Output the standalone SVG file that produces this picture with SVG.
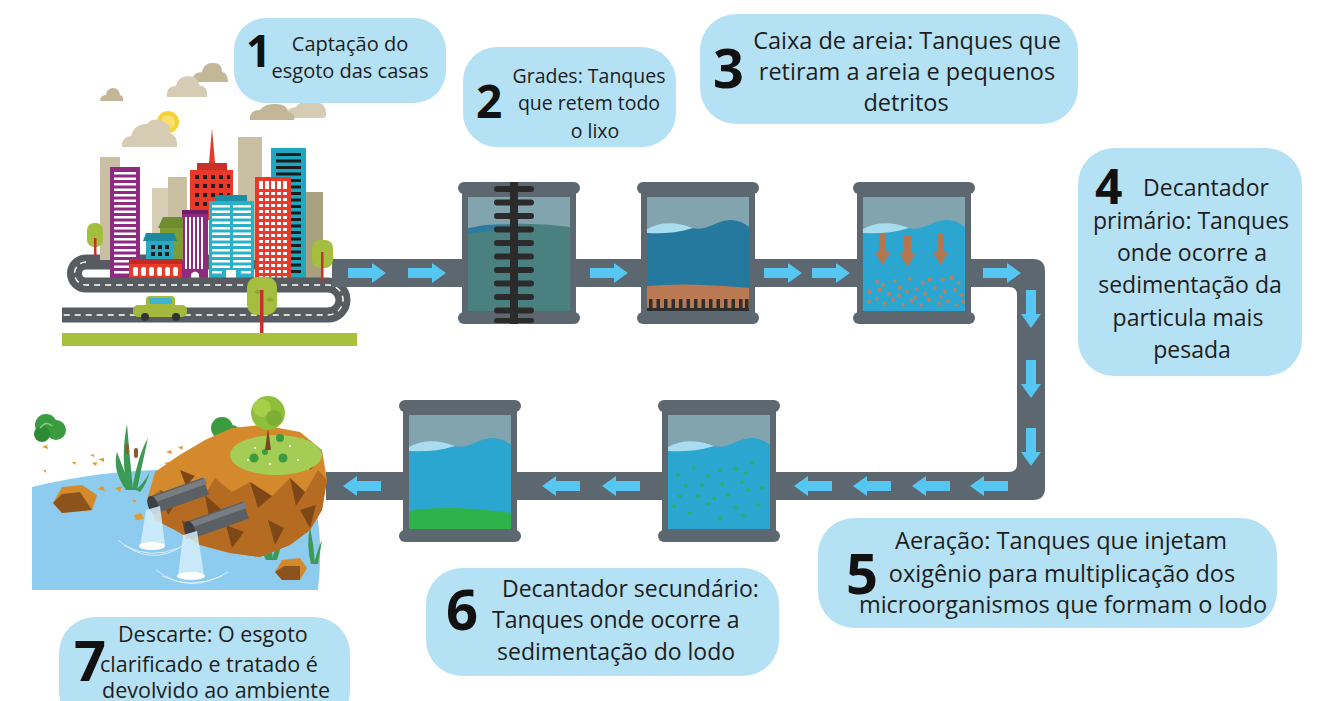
<svg xmlns="http://www.w3.org/2000/svg" width="1325" height="701" viewBox="0 0 1325 701">
  <style>
    .box { fill: #b5e1f4; }
    .t { font-family: "Open Sans", "Liberation Sans", sans-serif; fill: #1d1d1d; }
    .num { font-family: "Open Sans", "Liberation Sans", sans-serif; font-weight: 700; fill: #111; }
    .frame { fill: #5c6770; }
    .glass { fill: #82a4ae; }
    .flow { fill: #56c6f2; }
    .sed { fill: #c47a52; }
    .gdot { fill: #2db34a; }
    .road { fill: none; stroke: #575c61; stroke-width: 15; }
    .dash { fill: none; stroke: #ffffff; stroke-width: 1.5; stroke-dasharray: 6 5; }
    .cloudA { fill: #d5ccb3; }
    .cloudB { fill: #c3b798; }
  </style>
  <defs>
    <path id="arr" d="M0,-5 H24 V-10 L38,0 L24,10 V5 H0 Z"/>
    <!-- empty tank shell: caps, body and glass -->
    <g id="shell">
      <rect class="frame" x="4" y="8" width="114" height="126"/>
      <rect class="glass" x="10" y="15" width="102" height="114"/>
      <rect class="frame" x="0" y="0" width="122" height="12" rx="6"/>
      <rect class="frame" x="0" y="130" width="122" height="12" rx="6"/>
    </g>
    <path id="wave" d="M10,47 C25,40 40,42 55,46 C70,50 80,37 95,38 C104,39 108,42 112,45 V129 H10 Z"/>
    <path id="crest" d="M10,47 C24,39 40,40 56,46 C40,51 24,52 10,51 Z" fill="#aadcf0"/>
  </defs>

  <rect width="1325" height="701" fill="#ffffff"/>

  <!-- city -->
  <g id="city">
    <path class="road" d="M300,262 H86"/>
    <!-- clouds -->
    <path class="cloudB" d="M100,101 Q100,95 106,95 Q107,88 113,88 Q119,88 120,95 Q124,96 123,101 Z"/>
    <path class="cloudB" d="M192,82 Q192,72 202,72 Q204,62 214,63 Q222,63 222,72 Q228,73 228,82 Z"/>
    <path class="cloudA" d="M167,97 Q166,86 176,86 Q178,76 189,76 Q199,77 199,85 Q208,86 207,97 Z"/>
    <path class="cloudA" d="M285,118 Q285,108 296,107 Q300,100 312,101 Q325,102 326,112 Q327,118 322,118 Z"/>
    <path class="cloudB" d="M250,120 Q249,110 260,110 Q265,103 276,104 Q287,104 288,112 Q296,113 294,120 Z"/>
    <circle cx="168" cy="122" r="11" fill="#f3d23a"/>
    <circle cx="168" cy="122" r="7" fill="#f8e06a"/>
    <path class="cloudA" d="M122,147 Q121,137 131,136 Q134,124 147,124 Q153,117 162,121 Q172,124 170,133 Q178,136 177,147 Z"/>
    <!-- background towers -->
    <rect x="100" y="157" width="20" height="103" fill="#c9bfa3"/>
    <rect x="152" y="188" width="18" height="72" fill="#d6ceb6"/>
    <rect x="168" y="177" width="19" height="83" fill="#c9bfa3"/>
    <rect x="238" y="137" width="24" height="123" fill="#c9bfa3"/>
    <rect x="304" y="192" width="19" height="90" fill="#a8a07f"/>
    <!-- purple tower -->
    <rect x="110" y="167" width="30" height="115" fill="#8e2b80"/>
    <g fill="#ffffff">
      <rect x="114" y="172" width="22" height="2.5"/><rect x="114" y="177.5" width="22" height="2.5"/><rect x="114" y="183" width="22" height="2.5"/><rect x="114" y="188.5" width="22" height="2.5"/><rect x="114" y="194" width="22" height="2.5"/><rect x="114" y="199.5" width="22" height="2.5"/><rect x="114" y="205" width="22" height="2.5"/><rect x="114" y="210.5" width="22" height="2.5"/><rect x="114" y="216" width="22" height="2.5"/><rect x="114" y="221.5" width="22" height="2.5"/><rect x="114" y="227" width="22" height="2.5"/><rect x="114" y="232.5" width="22" height="2.5"/><rect x="114" y="238" width="22" height="2.5"/><rect x="114" y="243.5" width="22" height="2.5"/><rect x="114" y="249" width="22" height="2.5"/><rect x="114" y="254.5" width="22" height="2.5"/><rect x="114" y="260" width="22" height="2.5"/><rect x="114" y="265.5" width="22" height="2.5"/><rect x="114" y="271" width="22" height="2.5"/>
    </g>
    <!-- red spire tower -->
    <polygon points="209,163 212,128 215,163" fill="#e8392b"/>
    <rect x="197" y="163" width="30" height="7" fill="#c8302a"/>
    <rect x="190" y="170" width="43" height="50" fill="#e8392b"/>
    <g fill="#1d1d1d">
      <rect x="195" y="175" width="4" height="4"/><rect x="203" y="175" width="4" height="4"/><rect x="211" y="175" width="4" height="4"/><rect x="219" y="175" width="4" height="4"/><rect x="227" y="175" width="3" height="4"/>
      <rect x="195" y="184" width="4" height="4"/><rect x="203" y="184" width="4" height="4"/><rect x="211" y="184" width="4" height="4"/><rect x="219" y="184" width="4" height="4"/><rect x="227" y="184" width="3" height="4"/>
      <rect x="195" y="193" width="4" height="4"/><rect x="203" y="193" width="4" height="4"/><rect x="211" y="193" width="4" height="4"/><rect x="219" y="193" width="4" height="4"/><rect x="227" y="193" width="3" height="4"/>
      <rect x="195" y="202" width="4" height="4"/><rect x="203" y="202" width="4" height="4"/>
    </g>
    <!-- tall cyan tower -->
    <rect x="271" y="148" width="35" height="134" fill="#1ea7be"/>
    <g fill="#1d1d1d">
      <rect x="276" y="153" width="25" height="3"/><rect x="276" y="159.5" width="25" height="3"/><rect x="276" y="166" width="25" height="3"/><rect x="276" y="172.5" width="25" height="3"/><rect x="276" y="179" width="25" height="3"/><rect x="276" y="185.5" width="25" height="3"/><rect x="276" y="192" width="25" height="3"/><rect x="276" y="198.5" width="25" height="3"/><rect x="276" y="205" width="25" height="3"/><rect x="276" y="211.5" width="25" height="3"/><rect x="276" y="218" width="25" height="3"/><rect x="276" y="224.5" width="25" height="3"/><rect x="276" y="231" width="25" height="3"/><rect x="276" y="237.5" width="25" height="3"/><rect x="276" y="244" width="25" height="3"/><rect x="276" y="250.5" width="25" height="3"/><rect x="276" y="257" width="25" height="3"/><rect x="276" y="263.5" width="25" height="3"/><rect x="276" y="270" width="25" height="3"/>
    </g>
    <!-- red grid tower -->
    <rect x="255" y="177" width="36" height="105" fill="#e8392b"/>
    <g fill="#ffffff">
      <rect x="259" y="181" width="4" height="8"/><rect x="265" y="181" width="4" height="8"/><rect x="271" y="181" width="4" height="8"/><rect x="277" y="181" width="4" height="8"/><rect x="283" y="181" width="4" height="8"/>
    </g>
    <g id="redgrid" fill="#ffffff">
      <rect x="259" y="192" width="4" height="3"/><rect x="265" y="192" width="4" height="3"/><rect x="271" y="192" width="4" height="3"/><rect x="277" y="192" width="4" height="3"/><rect x="283" y="192" width="4" height="3"/>
      <rect x="259" y="198" width="4" height="3"/><rect x="265" y="198" width="4" height="3"/><rect x="271" y="198" width="4" height="3"/><rect x="277" y="198" width="4" height="3"/><rect x="283" y="198" width="4" height="3"/>
      <rect x="259" y="204" width="4" height="3"/><rect x="265" y="204" width="4" height="3"/><rect x="271" y="204" width="4" height="3"/><rect x="277" y="204" width="4" height="3"/><rect x="283" y="204" width="4" height="3"/>
      <rect x="259" y="210" width="4" height="3"/><rect x="265" y="210" width="4" height="3"/><rect x="271" y="210" width="4" height="3"/><rect x="277" y="210" width="4" height="3"/><rect x="283" y="210" width="4" height="3"/>
      <rect x="259" y="216" width="4" height="3"/><rect x="265" y="216" width="4" height="3"/><rect x="271" y="216" width="4" height="3"/><rect x="277" y="216" width="4" height="3"/><rect x="283" y="216" width="4" height="3"/>
    </g>
    <use href="#redgrid" y="30"/>
    <use href="#redgrid" y="60"/>
    <!-- middle cyan block -->
    <rect x="216" y="195" width="31" height="6" fill="#1a8fa3"/>
    <rect x="209" y="201" width="45" height="81" fill="#2ab1c8"/>
    <g id="cyanrows" fill="#ffffff">
      <rect x="212" y="205" width="18" height="2.5"/><rect x="233" y="205" width="18" height="2.5"/>
      <rect x="212" y="210.5" width="18" height="2.5"/><rect x="233" y="210.5" width="18" height="2.5"/>
      <rect x="212" y="216" width="18" height="2.5"/><rect x="233" y="216" width="18" height="2.5"/>
      <rect x="212" y="221.5" width="18" height="2.5"/><rect x="233" y="221.5" width="18" height="2.5"/>
      <rect x="212" y="227" width="18" height="2.5"/><rect x="233" y="227" width="18" height="2.5"/>
      <rect x="212" y="232.5" width="18" height="2.5"/><rect x="233" y="232.5" width="18" height="2.5"/>
    </g>
    <use href="#cyanrows" y="33"/>
    <rect x="212" y="271" width="10" height="2.5" fill="#fff"/><rect x="241" y="271" width="10" height="2.5" fill="#fff"/>
    <rect x="226" y="270" width="10" height="12" fill="#ffffff"/>
    <!-- small purple block -->
    <rect x="182" y="210" width="26" height="72" fill="#8e2b80"/>
    <rect x="182" y="210" width="26" height="4" fill="#6e1f63"/>
    <g fill="#ffffff">
      <rect x="185" y="217" width="2" height="52"/><rect x="189" y="217" width="2" height="52"/><rect x="193" y="217" width="2" height="52"/><rect x="197" y="217" width="2" height="52"/><rect x="201" y="217" width="2" height="52"/>
    </g>
    <path d="M191,282 V274 Q195,269 199,274 V282 Z" fill="#ffffff"/>
    <!-- olive house -->
    <polygon points="158,228 163,217 183,217 183,228" fill="#6f8d30"/>
    <rect x="160" y="228" width="23" height="32" fill="#7d9c35"/>
    <!-- teal house -->
    <polygon points="143,241 146,233 174,233 177,241" fill="#1c8a9c"/>
    <rect x="146" y="241" width="28" height="19" fill="#2aaac0"/>
    <g fill="#1d1d1d">
      <rect x="151" y="245" width="4" height="4"/><rect x="158" y="245" width="4" height="4"/><rect x="165" y="245" width="4" height="4"/>
      <rect x="151" y="252" width="4" height="4"/><rect x="158" y="252" width="4" height="4"/><rect x="165" y="252" width="4" height="4"/>
    </g>
    <!-- red low building -->
    <rect x="129" y="260" width="53" height="22" fill="#e8392b"/>
    <rect x="129" y="259" width="53" height="5" fill="#c22a22"/>
    <g fill="#ffffff">
      <rect x="133" y="267" width="5" height="9" rx="2"/><rect x="141" y="267" width="5" height="9" rx="2"/><rect x="149" y="267" width="5" height="9" rx="2"/><rect x="157" y="267" width="5" height="9" rx="2"/><rect x="165" y="267" width="5" height="9" rx="2"/><rect x="173" y="267" width="5" height="9" rx="2"/>
    </g>
    <!-- road loop in front -->
    <path class="road" d="M86,262 A11.5,11.5 0 0 0 86,285 H328 A15,15 0 0 1 328,315 H62"/>
    <path class="dash" d="M86,262 A11.5,11.5 0 0 0 86,285 H328 A15,15 0 0 1 328,315 H62"/>
    <!-- grass strip -->
    <rect x="62" y="333" width="295" height="13" fill="#a9c03b"/>
    <!-- car -->
    <rect x="133" y="305" width="54" height="12" rx="5" fill="#a3b83c"/>
    <rect x="146" y="296" width="29" height="12" rx="4" fill="#a3b83c"/>
    <rect x="149" y="298" width="23" height="6" rx="2" fill="#3fb2d2"/>
    <circle cx="145" cy="317" r="4" fill="#333"/>
    <circle cx="176" cy="317" r="4" fill="#333"/>
    <!-- trees -->
    <rect x="94" y="238" width="2.5" height="18" fill="#c9302c"/>
    <rect x="87" y="223" width="16" height="24" rx="7" fill="#a4bf3f"/>
    <rect x="94" y="238" width="2.5" height="9" fill="#c9302c"/>
  </g>

  <!-- connectors: pipe line and flow arrows -->
  <g id="connectors">
    <path class="frame" d="M332,259 H1033 Q1045,259 1045,271 V488 Q1045,500 1033,500 H326 V472 H1009 Q1017,472 1017,464 V295 Q1017,287 1009,287 H332 Z"/>
    <g class="flow">
      <use href="#arr" transform="translate(348,273)"/>
      <use href="#arr" transform="translate(408,273)"/>
      <use href="#arr" transform="translate(590,273)"/>
      <use href="#arr" transform="translate(764,273)"/>
      <use href="#arr" transform="translate(812,273)"/>
      <use href="#arr" transform="translate(983,273)"/>
      <use href="#arr" transform="translate(1031,290) rotate(90)"/>
      <use href="#arr" transform="translate(1031,360) rotate(90)"/>
      <use href="#arr" transform="translate(1031,428) rotate(90)"/>
      <use href="#arr" transform="translate(1008,486) rotate(180)"/>
      <use href="#arr" transform="translate(950,486) rotate(180)"/>
      <use href="#arr" transform="translate(891,486) rotate(180)"/>
      <use href="#arr" transform="translate(832,486) rotate(180)"/>
      <use href="#arr" transform="translate(640,486) rotate(180)"/>
      <use href="#arr" transform="translate(580,486) rotate(180)"/>
      <use href="#arr" transform="translate(381,486) rotate(180)"/>
    </g>
  </g>

  <!-- trees in front of the pipe start -->
  <g id="city-front">
    <rect x="321" y="252" width="2.5" height="30" fill="#c9302c"/>
    <rect x="312" y="240" width="21" height="28" rx="8" fill="#a4bf3f"/>
    <rect x="321" y="252" width="2.5" height="16" fill="#c9302c"/>
    <rect x="260" y="290" width="3.5" height="43" fill="#c9302c"/>
    <rect x="247" y="277" width="30" height="38" rx="10" fill="#a4bf3f"/>
    <path d="M254,292 q4,-5 8,0 q-4,4 -8,0 Z M266,300 q4,-5 8,0 q-4,4 -8,0 Z" fill="#8fa834"/>
    <rect x="260" y="290" width="3.5" height="25" fill="#c9302c"/>
  </g>

  <!-- tank 1: screens -->
  <g id="tank-grades" transform="translate(458,182)">
    <use href="#shell"/>
    <path d="M10,46 Q60,38 112,45 V129 H10 Z" fill="#4b8080"/>
    <path d="M10,47 Q32,40 56,44 Q34,50 10,51 Z" fill="#2d7aa2"/>
    <rect x="52" y="0" width="8" height="142" fill="#2b2b2b"/>
    <g fill="#2b2b2b">
      <rect x="36" y="4" width="40" height="6" rx="3"/><rect x="36" y="17.5" width="40" height="6" rx="3"/><rect x="36" y="31" width="40" height="6" rx="3"/><rect x="36" y="44.5" width="40" height="6" rx="3"/><rect x="36" y="58" width="40" height="6" rx="3"/><rect x="36" y="71.5" width="40" height="6" rx="3"/><rect x="36" y="85" width="40" height="6" rx="3"/><rect x="36" y="98.5" width="40" height="6" rx="3"/><rect x="36" y="112" width="40" height="6" rx="3"/><rect x="36" y="125.5" width="40" height="6" rx="3"/><rect x="36" y="136" width="40" height="5" rx="2.5"/>
    </g>
  </g>

  <!-- tank 2: sand box -->
  <g id="tank-sand" transform="translate(637,182)">
    <use href="#shell"/>
    <use href="#wave" fill="#26799e"/>
    <use href="#crest"/>
    <path d="M10,104 Q50,100 112,106 V129 H10 Z" fill="#b97a53"/>
    <rect x="10" y="126" width="102" height="3" fill="#2e2e2e"/>
    <g fill="#2e2e2e">
      <rect x="12" y="117" width="3.5" height="10"/><rect x="19.5" y="117" width="3.5" height="10"/><rect x="27" y="117" width="3.5" height="10"/><rect x="34.5" y="117" width="3.5" height="10"/><rect x="42" y="117" width="3.5" height="10"/><rect x="49.5" y="117" width="3.5" height="10"/><rect x="57" y="117" width="3.5" height="10"/><rect x="64.5" y="117" width="3.5" height="10"/><rect x="72" y="117" width="3.5" height="10"/><rect x="79.5" y="117" width="3.5" height="10"/><rect x="87" y="117" width="3.5" height="10"/><rect x="94.5" y="117" width="3.5" height="10"/><rect x="102" y="117" width="3.5" height="10"/><rect x="108" y="117" width="3.5" height="10"/>
    </g>
  </g>

  <!-- tank 3: primary settler -->
  <g id="tank-primary" transform="translate(853,182)">
    <use href="#shell"/>
    <use href="#wave" fill="#2ba6d1"/>
    <use href="#crest"/>
    <g fill="#b5764f">
      <path d="M26,52 H33 V70 H37 L29.5,83 L22,70 H26 Z"/>
      <path d="M51,54 H58 V72 H62 L54.5,85 L47,72 H51 Z"/>
      <path d="M84,52 H91 V70 H95 L87.5,83 L80,70 H84 Z"/>
    </g>
    <g class="sed">
      <rect x="22" y="98" width="3.5" height="3.5" rx="1"/><rect x="28" y="101" width="3.5" height="3.5" rx="1"/><rect x="40" y="97" width="3.5" height="3.5" rx="1"/><rect x="55" y="95" width="3.5" height="3.5" rx="1"/><rect x="68" y="99" width="3.5" height="3.5" rx="1"/><rect x="75" y="96" width="3.5" height="3.5" rx="1"/><rect x="88" y="96" width="3.5" height="3.5" rx="1"/><rect x="97" y="94" width="3.5" height="3.5" rx="1"/><rect x="104" y="99" width="3.5" height="3.5" rx="1"/>
      <rect x="15" y="108" width="3.5" height="3.5" rx="1"/><rect x="25" y="106" width="3.5" height="3.5" rx="1"/><rect x="34" y="110" width="3.5" height="3.5" rx="1"/><rect x="45" y="104" width="3.5" height="3.5" rx="1"/><rect x="52" y="108" width="3.5" height="3.5" rx="1"/><rect x="62" y="105" width="3.5" height="3.5" rx="1"/><rect x="70" y="110" width="3.5" height="3.5" rx="1"/><rect x="80" y="104" width="3.5" height="3.5" rx="1"/><rect x="90" y="108" width="3.5" height="3.5" rx="1"/><rect x="100" y="106" width="3.5" height="3.5" rx="1"/><rect x="107" y="111" width="3.5" height="3.5" rx="1"/>
      <rect x="14" y="118" width="3.5" height="3.5" rx="1"/><rect x="22" y="115" width="3.5" height="3.5" rx="1"/><rect x="30" y="120" width="3.5" height="3.5" rx="1"/><rect x="38" y="116" width="3.5" height="3.5" rx="1"/><rect x="48" y="121" width="3.5" height="3.5" rx="1"/><rect x="57" y="117" width="3.5" height="3.5" rx="1"/><rect x="66" y="121" width="3.5" height="3.5" rx="1"/><rect x="74" y="116" width="3.5" height="3.5" rx="1"/><rect x="84" y="120" width="3.5" height="3.5" rx="1"/><rect x="93" y="117" width="3.5" height="3.5" rx="1"/><rect x="102" y="121" width="3.5" height="3.5" rx="1"/><rect x="108" y="118" width="3.5" height="3.5" rx="1"/>
      <rect x="44" y="112" width="3.5" height="3.5" rx="1"/><rect x="86" y="113" width="3.5" height="3.5" rx="1"/><rect x="60" y="114" width="3.5" height="3.5" rx="1"/>
    </g>
  </g>

  <!-- tank 4: aeration -->
  <g id="tank-aeration" transform="translate(658,400)">
    <use href="#shell"/>
    <use href="#wave" fill="#2ba6d1"/>
    <use href="#crest"/>
    <g class="gdot">
      <circle cx="20" cy="75" r="1.8"/><circle cx="36" cy="68" r="1.8"/><circle cx="50" cy="76" r="1.8"/><circle cx="62" cy="70" r="1.8"/><circle cx="78" cy="69" r="1.8"/><circle cx="88" cy="73" r="1.8"/><circle cx="94" cy="63" r="1.8"/>
      <circle cx="28" cy="86" r="1.8"/><circle cx="44" cy="85" r="1.8"/><circle cx="64" cy="84" r="1.8"/><circle cx="84" cy="82" r="1.8"/><circle cx="104" cy="88" r="1.8"/>
      <circle cx="22" cy="96" r="1.8"/><circle cx="40" cy="96" r="1.8"/><circle cx="56" cy="98" r="1.8"/><circle cx="70" cy="95" r="1.8"/><circle cx="90" cy="90" r="1.8"/><circle cx="16" cy="106" r="1.8"/>
      <circle cx="50" cy="104" r="1.8"/><circle cx="78" cy="107" r="1.8"/><circle cx="100" cy="105" r="1.8"/><circle cx="32" cy="113" r="1.8"/><circle cx="62" cy="118" r="1.8"/><circle cx="86" cy="115" r="1.8"/>
    </g>
  </g>

  <!-- tank 5: secondary settler -->
  <g id="tank-secondary" transform="translate(399,400)">
    <use href="#shell"/>
    <use href="#wave" fill="#2ba6d1"/>
    <use href="#crest"/>
    <path d="M10,111 Q50,104 112,113 V129 H10 Z" fill="#2db34a"/>
  </g>

  <!-- discharge into the river -->
  <g id="river">
    <path d="M32,487 Q110,468 190,470 L305,478 Q326,520 318,590 H32 Z" fill="#8dccef"/>
    <!-- bushes and debris -->
    <circle cx="46" cy="425" r="11" fill="#3a9c3e"/><circle cx="56" cy="430" r="10" fill="#3a9c3e"/><circle cx="42" cy="434" r="8" fill="#2f8a36"/>
    <path d="M40,428 q6,-8 12,-2" stroke="#7fd08a" stroke-width="1.5" fill="none"/>
    <circle cx="222" cy="428" r="11" fill="#3a9c3e"/><circle cx="232" cy="434" r="9" fill="#3a9c3e"/>
    <g fill="#e09a32">
      <path d="M42,447 l5,-2 l1,4 z"/><path d="M92,463 l5,-1 l-1,4 z"/><path d="M90,455 l4,-1 l0,3 z"/><path d="M98,459 l6,-1 l0,4 z"/><path d="M43,470 l3,0 l0,3 z"/><path d="M72,462 l4,0 l-1,3 z"/>
      <path d="M97,489 l6,-3 l2,5 z"/><path d="M115,488 l7,-2 l-2,6 z"/><path d="M166,452 l5,-2 l1,4 z"/><path d="M178,447 l5,-1 l-1,4 z"/><path d="M164,463 l5,-1 l0,4 z"/><path d="M132,500 l4,0 l-1,3 z"/>
      <path d="M134,515 l7,-2 l3,6 l-8,1 z"/>
    </g>
    <!-- rocks in water -->
    <path d="M53,503 L62,487 L82,485 L97,495 L92,510 L62,513 Z" fill="#d48a2c"/>
    <path d="M53,503 L62,494 L80,492 L92,510 L62,513 Z" fill="#8c531d"/>
    <path d="M275,572 L282,560 L300,558 L307,568 L300,580 L282,580 Z" fill="#d48a2c"/>
    <path d="M275,572 L284,566 L300,566 L300,580 L282,580 Z" fill="#8c531d"/>
    <!-- reeds -->
    <g fill="#3d9a55">
      <path d="M128,490 Q120,460 127,424 Q130,460 133,490 Z"/>
      <path d="M132,490 Q138,455 148,438 Q142,465 137,490 Z"/>
      <path d="M126,490 Q112,470 117,452 Q124,470 131,490 Z"/>
      <path d="M136,490 Q148,478 150,470 Q147,484 140,492 Z"/>
      <path d="M268,560 Q262,530 266,497 Q270,530 273,560 Z"/>
      <path d="M272,560 Q280,530 290,515 Q283,540 277,560 Z"/>
      <path d="M266,560 Q255,540 258,523 Q264,540 270,560 Z"/>
      <path d="M311,564 Q306,545 310,527 Q314,545 315,564 Z"/>
      <path d="M314,564 Q318,548 322,540 Q320,552 318,564 Z"/>
    </g>
    <rect x="125" y="444" width="4" height="10" rx="2" fill="#8b5a2b"/>
    <rect x="134" y="448" width="4" height="10" rx="2" fill="#8b5a2b"/>
    <rect x="277" y="520" width="4" height="10" rx="2" fill="#8b5a2b"/>
    <!-- rocky outcrop -->
    <path d="M147,500 L155,472 L178,456 L205,440 L232,428 L262,425 L300,432 L322,450 L327,480 L322,510 L310,530 L290,545 L260,557 L230,553 L200,545 L175,530 L155,520 Z" fill="#d48a2c"/>
    <path d="M147,500 L160,490 L178,500 L190,480 L205,495 L215,478 L232,492 L250,482 L272,496 L290,478 L305,492 L318,470 L327,480 L322,510 L310,530 L290,545 L260,557 L230,553 L200,545 L175,530 L155,520 Z" fill="#b56c22"/>
    <g fill="#7e4716">
      <path d="M160,490 L178,500 L168,515 Z"/><path d="M205,495 L222,510 L210,522 Z"/><path d="M250,482 L272,496 L258,508 Z"/><path d="M290,478 L305,492 L296,506 Z"/>
      <path d="M182,520 L198,530 L186,540 Z"/><path d="M226,525 L244,532 L232,548 Z"/><path d="M268,520 L284,528 L275,545 Z"/><path d="M300,510 L316,505 L310,528 Z"/>
      <path d="M180,470 L195,476 L186,486 Z"/><path d="M306,452 L318,462 L310,470 Z"/>
    </g>
    <!-- grass top and tree -->
    <ellipse cx="276" cy="455" rx="46" ry="20" fill="#a5cc55"/>
    <g fill="#ffffff"><circle cx="255" cy="448" r="1"/><circle cx="290" cy="446" r="1"/><circle cx="270" cy="464" r="1"/><circle cx="298" cy="460" r="1"/><circle cx="248" cy="460" r="1"/></g>
    <g fill="#3a9c3e"><circle cx="254" cy="458" r="4.5"/><circle cx="283" cy="458" r="4.5"/><circle cx="280" cy="438" r="4"/><circle cx="265" cy="452" r="3"/></g>
    <path d="M265,450 L268,428 L271,450 Z" fill="#7a4a1f"/>
    <circle cx="268" cy="413" r="17" fill="#8fbe3c"/>
    <circle cx="262" cy="408" r="9" fill="#a6d04a"/>
    <circle cx="274" cy="418" r="8" fill="#7cae33"/>
    <!-- outlet pipes -->
    <line x1="153" y1="505" x2="206" y2="486" stroke="#5b6064" stroke-width="18"/>
    <line x1="153" y1="500" x2="206" y2="481" stroke="#777d82" stroke-width="6"/>
    <ellipse cx="153" cy="505" rx="5" ry="9.5" transform="rotate(-20 153 505)" fill="#3c4044"/>
    <line x1="190" y1="530" x2="246" y2="510" stroke="#5b6064" stroke-width="18"/>
    <line x1="190" y1="525" x2="246" y2="505" stroke="#777d82" stroke-width="6"/>
    <ellipse cx="190" cy="530" rx="5" ry="9.5" transform="rotate(-20 190 530)" fill="#3c4044"/>
    <!-- falling water and ripples -->
    <path d="M146,510 L160,506 L165,545 L140,547 Z" fill="#d6eefa" opacity="0.85"/>
    <path d="M183,535 L197,531 L204,575 L178,577 Z" fill="#d6eefa" opacity="0.85"/>
    <g fill="#ffffff"><ellipse cx="152" cy="546" rx="13" ry="4"/><ellipse cx="191" cy="576" rx="14" ry="4"/></g>
    <g fill="none" stroke="#ffffff" stroke-width="0.8" opacity="0.8">
      <path d="M124,545 Q150,560 178,548"/><path d="M118,540 Q150,568 184,545"/>
      <path d="M162,576 Q190,590 222,576"/><path d="M156,570 Q190,596 228,572"/>
    </g>
  </g>

  <!-- step labels -->
  <g id="step-1">
    <rect class="box" x="234" y="18" width="212" height="85" rx="32"/>
    <text class="num" x="246" y="67" font-size="44">1</text>
    <text class="t" font-size="20" text-anchor="middle"><tspan x="350" y="51">Captação do</tspan><tspan x="350" y="78">esgoto das casas</tspan></text>
  </g>
  <g id="step-2">
    <rect class="box" x="463" y="47" width="213" height="100" rx="34"/>
    <text class="num" x="476" y="118" font-size="46">2</text>
    <text class="t" font-size="19.5" text-anchor="middle"><tspan x="589" y="83">Grades: Tanques</tspan><tspan x="589" y="110">que retem todo</tspan><tspan x="595" y="138">o lixo</tspan></text>
  </g>
  <g id="step-3">
    <rect class="box" x="700" y="14" width="378" height="110" rx="36"/>
    <text class="num" x="713" y="88" font-size="54">3</text>
    <text class="t" font-size="23.5" text-anchor="middle"><tspan x="907" y="49">Caixa de areia: Tanques que</tspan><tspan x="907" y="80">retiram a areia e pequenos</tspan><tspan x="906" y="111">detritos</tspan></text>
  </g>
  <g id="step-4">
    <rect class="box" x="1078" y="148" width="224" height="228" rx="36"/>
    <text class="num" x="1095" y="204" font-size="48">4</text>
    <text class="t" font-size="23" text-anchor="middle"><tspan x="1206" y="196">Decantador</tspan><tspan x="1191" y="229">primário: Tanques</tspan><tspan x="1192" y="261">onde ocorre a</tspan><tspan x="1190" y="293">sedimentação da</tspan><tspan x="1188" y="326">particula mais</tspan><tspan x="1192" y="358">pesada</tspan></text>
  </g>
  <g id="step-5">
    <rect class="box" x="818" y="518" width="459" height="110" rx="36"/>
    <text class="num" x="846" y="594" font-size="56">5</text>
    <text class="t" font-size="23.5" text-anchor="middle"><tspan x="1061" y="549">Aeração: Tanques que injetam</tspan><tspan x="1062" y="582">oxigênio para multiplicação dos</tspan><tspan x="1063" y="613">microorganismos que formam o lodo</tspan></text>
  </g>
  <g id="step-6">
    <rect class="box" x="426" y="568" width="353" height="108" rx="36"/>
    <text class="num" x="446" y="630" font-size="56">6</text>
    <text class="t" font-size="23"><tspan x="502" y="597">Decantador secundário:</tspan><tspan x="492" y="628">Tanques onde ocorre a</tspan><tspan x="497" y="660">sedimentação do lodo</tspan></text>
  </g>
  <g id="step-7">
    <rect class="box" x="59" y="617" width="291" height="110" rx="36"/>
    <text class="num" x="74" y="681" font-size="56">7</text>
    <text class="t" font-size="21.5"><tspan x="118" y="642">Descarte: O esgoto</tspan><tspan x="100" y="672">clarificado e tratado é</tspan><tspan x="102" y="698">devolvido ao ambiente</tspan></text>
  </g>
</svg>
